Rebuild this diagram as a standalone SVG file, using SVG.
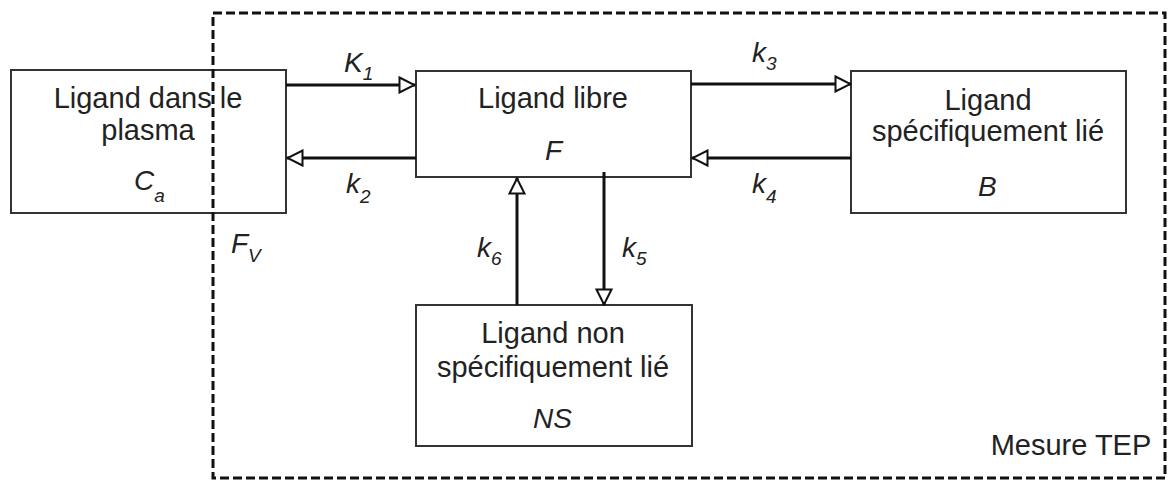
<svg xmlns="http://www.w3.org/2000/svg" width="1168" height="481" viewBox="0 0 1168 481">
<style>
.box{fill:#fff;stroke:#333;stroke-width:2}
.t{font-family:"Liberation Sans",Arial,sans-serif;font-size:29px;fill:#222;text-anchor:middle}
.v{font-family:"Liberation Sans",Arial,sans-serif;font-size:28px;font-style:italic;fill:#222}
.s{font-size:19px}
.ln{stroke:#111;stroke-width:3;fill:none;marker-end:url(#ah)}
.dash{fill:none;stroke:#111;stroke-width:3;stroke-dasharray:9 4}
</style>
<defs>
<marker id="ah" markerUnits="userSpaceOnUse" viewBox="0 0 18 18" refX="17" refY="9" markerWidth="18" markerHeight="18" orient="auto">
<path d="M1.5,1.5 L16.5,9 L1.5,16.5 Z" fill="#fff" stroke="#111" stroke-width="2"/>
</marker>
</defs>
<rect width="1168" height="481" fill="#fff"/>
<g id="plasma">
<rect class="box" x="11" y="70" width="275" height="143"/>
<text class="t" x="148" y="108">Ligand dans le</text>
<text class="t" x="148" y="140">plasma</text>
<text class="v" x="134" y="190">C<tspan class="s" dy="12">a</tspan></text>
</g>
<g id="libre">
<rect class="box" x="416" y="71" width="275" height="106"/>
<text class="t" x="553" y="108">Ligand libre</text>
<text class="v" x="545" y="160">F</text>
</g>
<g id="specifique">
<rect class="box" x="851" y="71" width="275" height="142"/>
<text class="t" x="988" y="110">Ligand</text>
<text class="t" x="988" y="141">spécifiquement lié</text>
<text class="v" x="978" y="196">B</text>
</g>
<g id="nonspecifique">
<rect class="box" x="416" y="305" width="276" height="141"/>
<text class="t" x="553" y="343">Ligand non</text>
<text class="t" x="553" y="377">spécifiquement lié</text>
<text class="v" x="533" y="428">NS</text>
</g>
<g id="connectors">
<path class="ln" d="M286,85 H415"/>
<path class="ln" d="M416,158 H287"/>
<path class="ln" d="M691,84 H851"/>
<path class="ln" d="M851,158 H692"/>
<path class="ln" d="M517,305 V178"/>
<path class="ln" d="M604,172 V305"/>
</g>
<g id="labels">
<text class="v" x="344" y="72">K<tspan class="s" dy="8">1</tspan></text>
<text class="v" x="346" y="193">k<tspan class="s" dy="10">2</tspan></text>
<text class="v" x="752" y="62">k<tspan class="s" dy="8">3</tspan></text>
<text class="v" x="752" y="193">k<tspan class="s" dy="10">4</tspan></text>
<text class="v" x="477" y="257">k<tspan class="s" dy="8">6</tspan></text>
<text class="v" x="622" y="257">k<tspan class="s" dy="8">5</tspan></text>
<text class="v" x="231" y="253">F<tspan class="s" dy="9">V</tspan></text>
</g>
<g id="tep">
<rect class="dash" x="213" y="13" width="952" height="465"/>
<text class="t" x="1071" y="455">Mesure TEP</text>
</g>
</svg>
